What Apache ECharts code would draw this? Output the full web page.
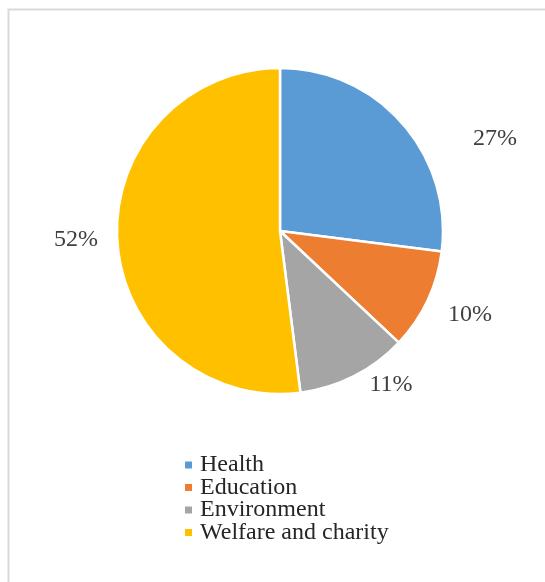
<!DOCTYPE html>
<html>
<head>
<meta charset="utf-8">
<script src="https://cdn.jsdelivr.net/npm/echarts@6/dist/echarts.min.js"></script>
<style>
html,body{margin:0;padding:0;background:#fff;}
#chart{width:545px;height:582px;}
</style>
</head>
<body>
<div id="chart"></div>
<script>
const categories = ['Health', 'Education', 'Environment', 'Welfare and charity'];
const values = [27, 10, 11, 52];
const colors = ['#5B9BD5', '#ED7D31', '#A5A5A5', '#FFC000'];
// label text centres (label placement only)
const labelCentres = [[495, 139], [470, 315], [391, 385], [76, 240]];

const chart = echarts.init(document.getElementById('chart'), null, {renderer: 'canvas'});
const font = '"Liberation Serif", "Times New Roman", serif';
chart.setOption({
  animation: false,
  backgroundColor: '#ffffff',
  color: colors,
  graphic: [{
    type: 'rect',
    shape: {x: 8.5, y: 9.5, width: 700, height: 700},
    style: {fill: 'none', stroke: '#d9d9d9', lineWidth: 2},
    silent: true
  }],
  legend: {
    orient: 'vertical',
    left: 185,
    top: 453,
    padding: 0,
    itemWidth: 7,
    itemHeight: 7,
    itemGap: -1.5,
    icon: 'rect',
    itemStyle: {borderWidth: 0},
    textStyle: {fontFamily: font, fontSize: 24, lineHeight: 23, color: '#262626', padding: [0, 0, 0, 3]},
    data: categories
  },
  series: [{
    type: 'pie',
    center: [280, 231],
    radius: [0, 163],
    startAngle: 90,
    clockwise: true,
    avoidLabelOverlap: false,
    itemStyle: {borderColor: '#ffffff', borderWidth: 2.5},
    label: {
      show: true,
      position: 'outside',
      formatter: '{c}%',
      fontFamily: font,
      fontSize: 24,
      color: '#404040'
    },
    labelLine: {show: false, length: 30, length2: 10},
    labelLayout: function (p) {
      const r = p.labelRect;
      const t = labelCentres[p.dataIndex];
      return {dx: t[0] - (r.x + r.width / 2), dy: t[1] - (r.y + r.height / 2)};
    },
    data: categories.map((c, i) => ({name: c, value: values[i]}))
  }]
});
</script>
</body>
</html>
